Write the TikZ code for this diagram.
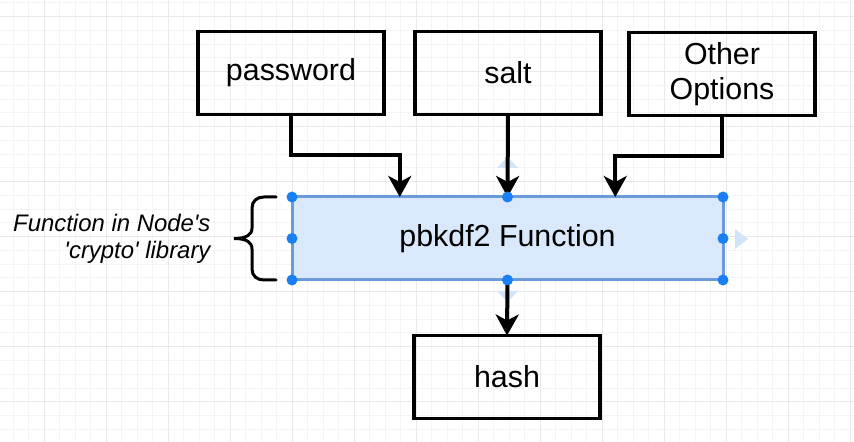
\documentclass[tikz,border=0pt]{standalone}
\usepackage{fontspec}
\setmainfont{Liberation Sans}
\usepackage{tikz}
\usetikzlibrary{arrows.meta,calc}
\usepackage{xcolor}
\definecolor{gridmajor}{HTML}{E9E9E9}
\definecolor{gridminor}{HTML}{F4F4F4}
\definecolor{selfill}{HTML}{DAE8FC}
\definecolor{selline}{HTML}{6A9BD8}
\definecolor{handle}{HTML}{1A7FF2}
\definecolor{hint}{HTML}{D3E3F8}

\begin{document}
\begin{tikzpicture}[x=1bp, y=-1bp,
  box/.style={draw, line width=3.5bp, minimum width=186bp, minimum height=83bp,
    inner sep=0pt, outer sep=0pt, align=center, font=\fontsize{30.5}{35}\selectfont},
  flow/.style={line width=4bp, -{Stealth[length=21bp, width=23bp, inset=6bp]}}]
  \useasboundingbox (0,0) rectangle (854,442);
  \fill[white] (0,0) rectangle (854,442);
  % grid
  \foreach \i in {0,...,55} \draw[gridminor, line width=1bp] ({-2.2+15.5*\i},0) -- ++(0,442);
  \foreach \j in {0,...,32} \draw[gridminor, line width=1bp] (0,{3+13.75*\j}) -- ++(854,0);
  \foreach \i in {0,...,13} \draw[gridmajor, line width=1bp] ({44.3+62*\i},0) -- ++(0,442);
  \foreach \j in {0,...,8} \draw[gridmajor, line width=1bp] (0,{16.7+55*\j}) -- ++(854,0);

  \node[box] (pw) at (291,73) {password};
  \node[box] (salt) at (508,73) {salt};
  \node[box] (opts) at (722,74) {Other\\Options};
  \node[box, fill=selfill, draw=selline, line width=3bp, minimum width=431bp] (fn) at (507.5,238.5) {pbkdf2 Function};
  \node[box] (hash) at (507,377) {hash};
  \node[anchor=east, align=right, font=\itshape\fontsize{24}{27}\selectfont] (note) at (214,239)
    {Function in Node\textquotesingle s\\\textquotesingle crypto\textquotesingle{} library};

  % hover hints
  \fill[hint] (497,168) -- (518,168) -- (507.5,157) -- cycle;
  \fill[hint] (735,229) -- (735,249) -- (748,239) -- cycle;
  \fill[hint] (497,291) -- (518,291) -- (507.5,302) -- cycle;

  \draw[flow] (pw.south) -- ++(0,41) -| ($(fn.north west)!0.25!(fn.north east)$);
  \draw[flow] (salt.south) -- (fn.north);
  \draw[flow] (opts.south) -- ++(0,41) -| ($(fn.north west)!0.75!(fn.north east)$);
  \draw[flow] (fn.south) -- (hash.north);

  % brace
  \draw[line width=3bp, line cap=round] (276,197) -- (264,197) .. controls (257,197) and (252,201) .. (252,208)
    -- (252,228) .. controls (252,235) and (246,238.5) .. (234,238.5)
    .. controls (246,238.5) and (252,242) .. (252,249) -- (252,269)
    .. controls (252,276) and (257,280) .. (264,280) -- (276,280);

  \foreach \a in {north west,north,north east,west,east,south west,south,south east}
    \fill[handle] (fn.\a) circle (5.5bp);
\end{tikzpicture}
\end{document}
